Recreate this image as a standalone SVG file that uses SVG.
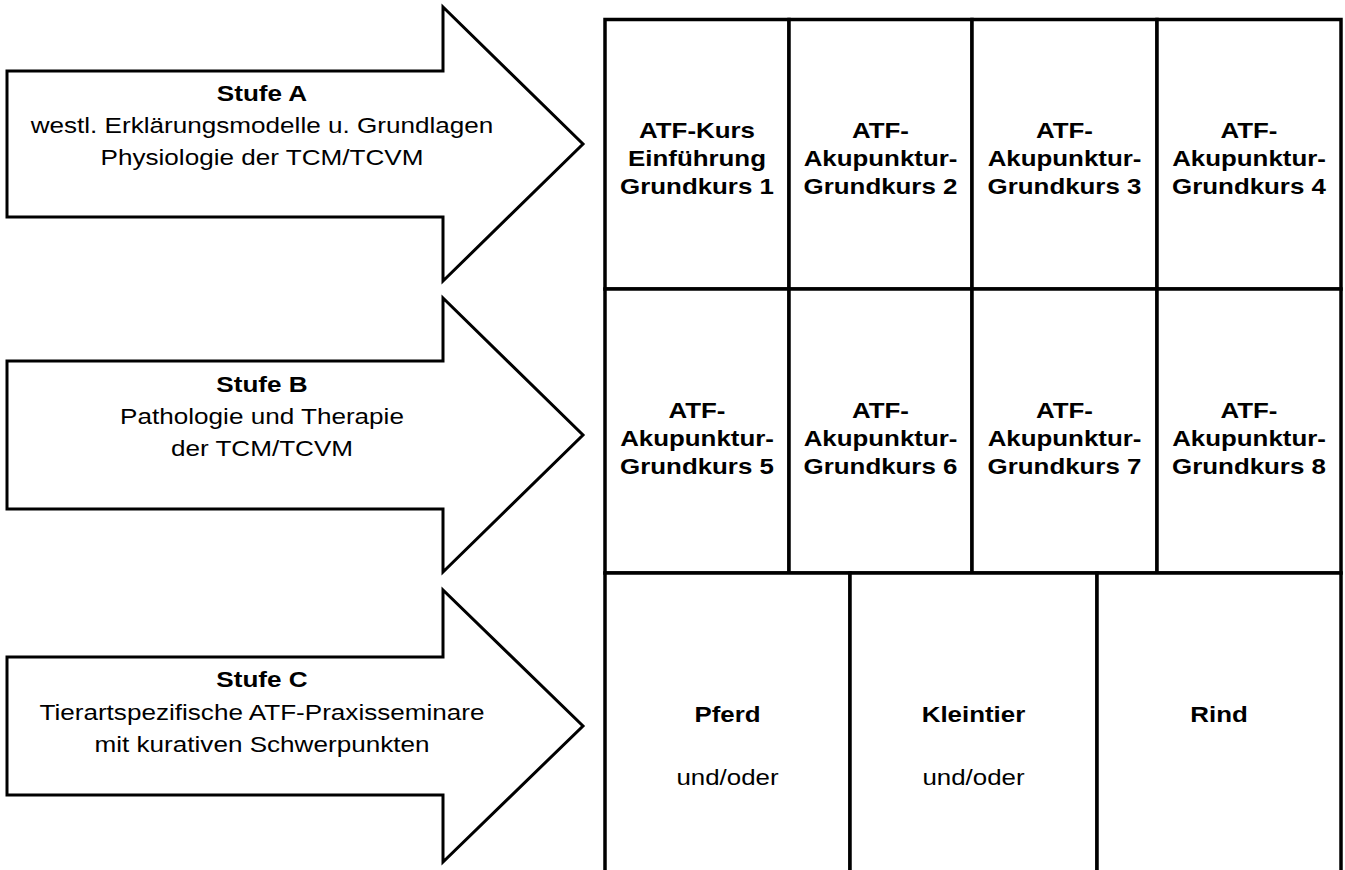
<svg xmlns="http://www.w3.org/2000/svg" width="1345" height="870" viewBox="0 0 1345 870">
<style>
.arrow{fill:#fff;stroke:#000;stroke-width:3;stroke-linejoin:miter}
.cell{fill:#fff;stroke:#000;stroke-width:3.5}
text{font-family:"Liberation Sans",Arial,Helvetica,sans-serif;font-size:22.5px;fill:#000;text-anchor:middle}
.b{font-weight:bold}
</style>
<rect width="1345" height="870" fill="#fff"/>
<g id="stufe-a">
<polygon class="arrow" points="7,71 443,71 443,7 583,144 443,281 443,217 7,217"/>
<text class="b" transform="translate(262,0) scale(1.16,1)" y="101">Stufe A</text>
<text transform="translate(262,0) scale(1.16,1)" y="133">westl. Erklärungsmodelle u. Grundlagen</text>
<text transform="translate(262,0) scale(1.16,1)" y="165">Physiologie der TCM/TCVM</text>
</g>
<g id="stufe-b">
<polygon class="arrow" points="7,361 443,361 443,298 583,435 443,572 443,509 7,509"/>
<text class="b" transform="translate(262,0) scale(1.16,1)" y="392">Stufe B</text>
<text transform="translate(262,0) scale(1.16,1)" y="424">Pathologie und Therapie</text>
<text transform="translate(262,0) scale(1.16,1)" y="456">der TCM/TCVM</text>
</g>
<g id="stufe-c">
<polygon class="arrow" points="7,657 443,657 443,590 583,726 443,862 443,795 7,795"/>
<text class="b" transform="translate(262,0) scale(1.16,1)" y="687">Stufe C</text>
<text transform="translate(262,0) scale(1.16,1)" y="720">Tierartspezifische ATF-Praxisseminare</text>
<text transform="translate(262,0) scale(1.16,1)" y="752">mit kurativen Schwerpunkten</text>
</g>
<g id="kurs-1">
<rect class="cell" x="605" y="19.5" width="184" height="269.5"/>
<text class="b" transform="translate(697,0) scale(1.15,1)" y="138">ATF-Kurs</text>
<text class="b" transform="translate(697,0) scale(1.15,1)" y="166">Einführung</text>
<text class="b" transform="translate(697,0) scale(1.15,1)" y="194">Grundkurs 1</text>
</g>
<g id="kurs-2">
<rect class="cell" x="789" y="19.5" width="183" height="269.5"/>
<text class="b" transform="translate(880.5,0) scale(1.15,1)" y="138">ATF-</text>
<text class="b" transform="translate(880.5,0) scale(1.15,1)" y="166">Akupunktur-</text>
<text class="b" transform="translate(880.5,0) scale(1.15,1)" y="194">Grundkurs 2</text>
</g>
<g id="kurs-3">
<rect class="cell" x="972" y="19.5" width="185" height="269.5"/>
<text class="b" transform="translate(1064.5,0) scale(1.15,1)" y="138">ATF-</text>
<text class="b" transform="translate(1064.5,0) scale(1.15,1)" y="166">Akupunktur-</text>
<text class="b" transform="translate(1064.5,0) scale(1.15,1)" y="194">Grundkurs 3</text>
</g>
<g id="kurs-4">
<rect class="cell" x="1157" y="19.5" width="184" height="269.5"/>
<text class="b" transform="translate(1249,0) scale(1.15,1)" y="138">ATF-</text>
<text class="b" transform="translate(1249,0) scale(1.15,1)" y="166">Akupunktur-</text>
<text class="b" transform="translate(1249,0) scale(1.15,1)" y="194">Grundkurs 4</text>
</g>
<g id="kurs-5">
<rect class="cell" x="605" y="289" width="184" height="284"/>
<text class="b" transform="translate(697,0) scale(1.15,1)" y="418">ATF-</text>
<text class="b" transform="translate(697,0) scale(1.15,1)" y="446">Akupunktur-</text>
<text class="b" transform="translate(697,0) scale(1.15,1)" y="474">Grundkurs 5</text>
</g>
<g id="kurs-6">
<rect class="cell" x="789" y="289" width="183" height="284"/>
<text class="b" transform="translate(880.5,0) scale(1.15,1)" y="418">ATF-</text>
<text class="b" transform="translate(880.5,0) scale(1.15,1)" y="446">Akupunktur-</text>
<text class="b" transform="translate(880.5,0) scale(1.15,1)" y="474">Grundkurs 6</text>
</g>
<g id="kurs-7">
<rect class="cell" x="972" y="289" width="185" height="284"/>
<text class="b" transform="translate(1064.5,0) scale(1.15,1)" y="418">ATF-</text>
<text class="b" transform="translate(1064.5,0) scale(1.15,1)" y="446">Akupunktur-</text>
<text class="b" transform="translate(1064.5,0) scale(1.15,1)" y="474">Grundkurs 7</text>
</g>
<g id="kurs-8">
<rect class="cell" x="1157" y="289" width="184" height="284"/>
<text class="b" transform="translate(1249,0) scale(1.15,1)" y="418">ATF-</text>
<text class="b" transform="translate(1249,0) scale(1.15,1)" y="446">Akupunktur-</text>
<text class="b" transform="translate(1249,0) scale(1.15,1)" y="474">Grundkurs 8</text>
</g>
<g id="pferd">
<rect class="cell" x="605" y="573" width="245" height="310"/>
<text class="b" transform="translate(727.5,0) scale(1.15,1)" y="722">Pferd</text>
<text transform="translate(727.5,0) scale(1.15,1)" y="785">und/oder</text>
</g>
<g id="kleintier">
<rect class="cell" x="850" y="573" width="247" height="310"/>
<text class="b" transform="translate(973.5,0) scale(1.15,1)" y="722">Kleintier</text>
<text transform="translate(973.5,0) scale(1.15,1)" y="785">und/oder</text>
</g>
<g id="rind">
<rect class="cell" x="1097" y="573" width="244" height="310"/>
<text class="b" transform="translate(1219,0) scale(1.15,1)" y="722">Rind</text>
</g>
</svg>
